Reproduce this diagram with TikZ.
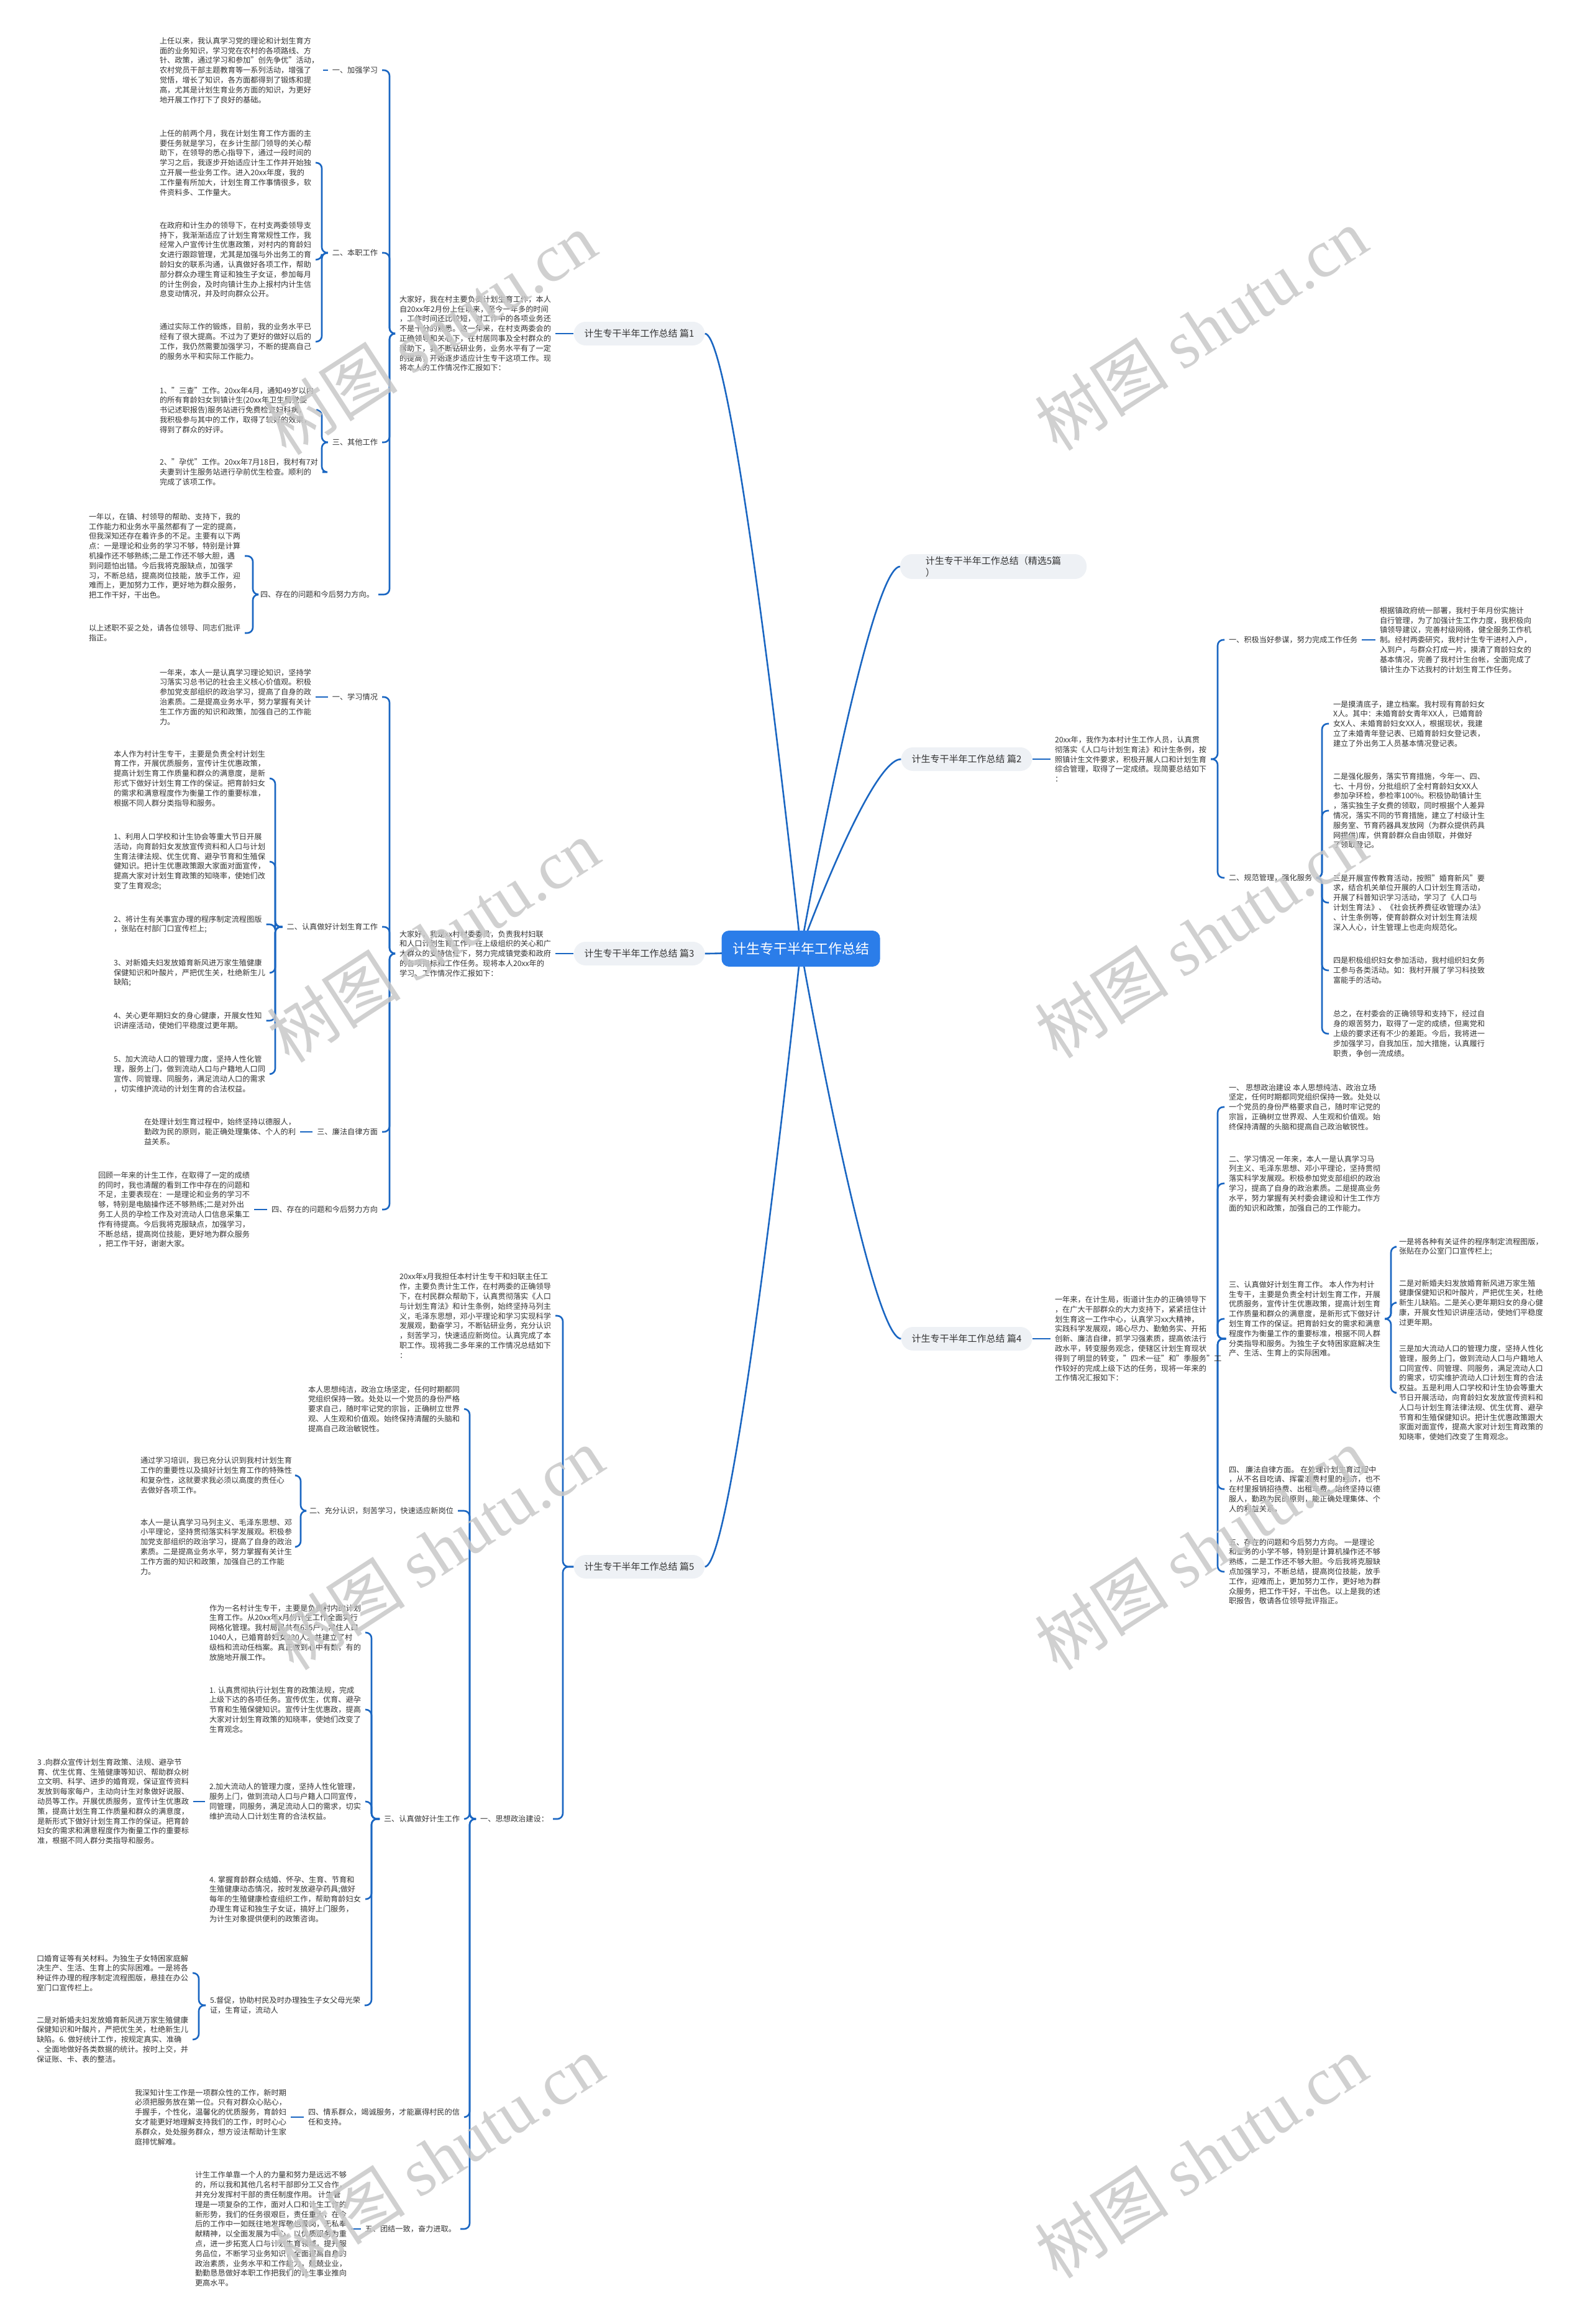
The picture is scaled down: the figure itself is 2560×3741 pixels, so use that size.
\documentclass[tikz,border=0pt]{standalone}
\usepackage{fontspec}
\setmainfont{Noto Sans CJK SC}
\newfontfamily\wmlatin{Liberation Serif}
\usetikzlibrary{calc}
\definecolor{linkblue}{HTML}{1A66C2}
\definecolor{rootblue}{HTML}{2B7DE9}
\definecolor{topicgray}{HTML}{EEF1F5}
\definecolor{inkgray}{HTML}{333333}
\definecolor{wmgray}{HTML}{C8C8C8}
\pgfdeclarelayer{background}
\pgfsetlayers{background,main}

\tikzset{
  link/.style={draw=linkblue, line width=2.6pt, rounded corners=9pt},
  root/.style={fill=rootblue, text=white, rounded corners=12pt, minimum width=255pt,
    minimum height=58pt, font=\fontsize{22}{26}\selectfont},
  topic/.style={fill=topicgray, text=inkgray, rounded corners=19pt, minimum height=38pt,
    inner xsep=17pt, font=\fontsize{15}{19}\selectfont},
  txt/.style={inner sep=0pt, outer sep=7pt, align=left, text=inkgray,
    font=\fontsize{12.2}{15.8}\selectfont},
  wm/.style={rotate=33, text=wmgray, opacity=0.85, font=\fontsize{108}{108}\selectfont}
}
% bracket links: parent, x of the trunk, child
\newcommand{\linkL}[3]{\draw[link] let \p1=(#1.west), \p2=(#3.east) in
  (\p1) -- (#2pt,\y1) -- (#2pt,\y2) -- (\p2);}
\newcommand{\linkR}[3]{\draw[link] let \p1=(#1.east), \p2=(#3.west) in
  (\p1) -- (#2pt,\y1) -- (#2pt,\y2) -- (\p2);}

\begin{document}
\begin{tikzpicture}[x=1pt,y=-1pt]
\useasboundingbox (0,0) rectangle (2560,3741);

% -------------------------------------------------
% Root and topics
% -------------------------------------------------
\node[root] (root) at (1289,1527) {计生专干半年工作总结};
\node[topic] (p1) at (1029,537) {计生专干半年工作总结 篇1};
\node[topic, align=left, minimum width=300pt] (px) at (1599,912) {计生专干半年工作总结（精选5篇\\）};
\node[topic] (p2) at (1556,1222) {计生专干半年工作总结 篇2};
\node[topic] (p3) at (1029,1535) {计生专干半年工作总结 篇3};
\node[topic] (p4) at (1556,2155) {计生专干半年工作总结 篇4};
\node[topic] (p5) at (1029,2522) {计生专干半年工作总结 篇5};

% -------------------------------------------------
% 篇1
% -------------------------------------------------
\node[txt, anchor=west] (i1) at (636,537) {大家好，我在村主要负责计划生育工作，本人\\
自20xx年2月份上任以来，至今一年多的时间\\
，工作时间还比较短，对工作中的各项业务还\\
不是十分的熟悉。这一年来，在村支两委会的\\
正确领导和关心下，在村居同事及全村群众的\\
帮助下，我不断钻研业务，业务水平有了一定\\
的提高，开始逐步适应计生专干这项工作。现\\
将本人的工作情况作汇报如下：};
\node[txt, anchor=east] (a11) at (615,113) {一、加强学习};
\node[txt, anchor=east] (a12) at (615,407) {二、本职工作};
\node[txt, anchor=east] (a13) at (615,712) {三、其他工作};
\node[txt, anchor=east] (a14) at (609,957) {四、存在的问题和今后努力方向。};
\node[txt, anchor=west] (t111) at (250,113) {上任以来，我认真学习党的理论和计划生育方\\
面的业务知识，学习党在农村的各项路线、方\\
针、政策，通过学习和参加"创先争优"活动，\\
农村党员干部主题教育等一系列活动，增强了\\
觉悟，增长了知识，各方面都得到了锻炼和提\\
高，尤其是计划生育业务方面的知识，为更好\\
地开展工作打下了良好的基础。};
\node[txt, anchor=west] (t121) at (250,262) {上任的前两个月，我在计划生育工作方面的主\\
要任务就是学习，在乡计生部门领导的关心帮\\
助下，在领导的悉心指导下，通过一段时间的\\
学习之后，我逐步开始适应计生工作并开始独\\
立开展一些业务工作。进入20xx年度，我的\\
工作量有所加大，计划生育工作事情很多，软\\
件资料多、工作量大。};
\node[txt, anchor=west] (t122) at (250,418) {在政府和计生办的领导下，在村支两委领导支\\
持下，我渐渐适应了计划生育常规性工作，我\\
经常入户宣传计生优惠政策，对村内的育龄妇\\
女进行跟踪管理，尤其是加强与外出务工的育\\
龄妇女的联系沟通，认真做好各项工作，帮助\\
部分群众办理生育证和独生子女证，参加每月\\
的计生例会，及时向镇计生办上报村内计生信\\
息变动情况，并及时向群众公开。};
\node[txt, anchor=west] (t123) at (250,550) {通过实际工作的锻炼，目前，我的业务水平已\\
经有了很大提高。不过为了更好的做好以后的\\
工作，我仍然需要加强学习，不断的提高自己\\
的服务水平和实际工作能力。};
\node[txt, anchor=west] (t131) at (250,660) {1、"三查"工作。20xx年4月，通知49岁以内\\
的所有育龄妇女到镇计生(20xx年卫生局党委\\
书记述职报告)服务站进行免费检查妇科病，\\
我积极参与其中的工作，取得了较好的效果，\\
得到了群众的好评。};
\node[txt, anchor=west] (t132) at (250,760) {2、"孕优"工作。20xx年7月18日，我村有7对\\
夫妻到计生服务站进行孕前优生检查。顺利的\\
完成了该项工作。};
\node[txt, anchor=west] (t141) at (136,895) {一年以，在镇、村领导的帮助、支持下，我的\\
工作能力和业务水平虽然都有了一定的提高，\\
但我深知还存在着许多的不足。主要有以下两\\
点：一是理论和业务的学习不够，特别是计算\\
机操作还不够熟练;二是工作还不够大胆，遇\\
到问题怕出错。今后我将克服缺点，加强学\\
习，不断总结，提高岗位技能，放手工作，迎\\
难而上，更加努力工作，更好地为群众服务，\\
把工作干好，干出色。};
\node[txt, anchor=west] (t142) at (136,1019) {以上述职不妥之处，请各位领导、同志们批评\\
指正。};

% -------------------------------------------------
% 篇3
% -------------------------------------------------
\node[txt, anchor=west] (i3) at (636,1535) {大家好，我是xx村村委委员，负责我村妇联\\
和人口计划生育工作，在上级组织的关心和广\\
大群众的支持信任下，努力完成镇党委和政府\\
的各项指标和工作任务。现将本人20xx年的\\
学习、工作情况作汇报如下：};
\node[txt, anchor=east] (a31) at (615,1122) {一、学习情况};
\node[txt, anchor=east] (a32) at (615,1492) {二、认真做好计划生育工作};
\node[txt, anchor=east] (a33) at (615,1822) {三、廉法自律方面};
\node[txt, anchor=east] (a34) at (615,1947) {四、存在的问题和今后努力方向};
\node[txt, anchor=west] (t311) at (250,1122) {一年来，本人一是认真学习理论知识，坚持学\\
习落实习总书记的社会主义核心价值观。积极\\
参加党支部组织的政治学习，提高了自身的政\\
治素质。二是提高业务水平，努力掌握有关计\\
生工作方面的知识和政策，加强自己的工作能\\
力。};
\node[txt, anchor=west] (t321) at (176,1253) {本人作为村计生专干，主要是负责全村计划生\\
育工作，开展优质服务，宣传计生优惠政策，\\
提高计划生育工作质量和群众的满意度，是新\\
形式下做好计划生育工作的保证。把育龄妇女\\
的需求和满意程度作为衡量工作的重要标准，\\
根据不同人群分类指导和服务。};
\node[txt, anchor=west] (t322) at (176,1387) {1、利用人口学校和计生协会等重大节日开展\\
活动，向育龄妇女发放宣传资料和人口与计划\\
生育法律法规、优生优育、避孕节育和生殖保\\
健知识。把计生优惠政策跟大家面对面宣传，\\
提高大家对计划生育政策的知晓率，使她们改\\
变了生育观念;};
\node[txt, anchor=west] (t323) at (176,1488) {2、将计生有关事宜办理的程序制定流程图版\\
，张贴在村部门口宣传栏上;};
\node[txt, anchor=west] (t324) at (176,1566) {3、对新婚夫妇发放婚育新风进万家生殖健康\\
保健知识和叶酸片，严把优生关，杜绝新生儿\\
缺陷;};
\node[txt, anchor=west] (t325) at (176,1643) {4、关心更年期妇女的身心健康，开展女性知\\
识讲座活动，使她们平稳度过更年期。};
\node[txt, anchor=west] (t326) at (176,1729) {5、加大流动人口的管理力度，坚持人性化管\\
理，服务上门，做到流动人口与户籍地人口同\\
宣传、同管理、同服务，满足流动人口的需求\\
，切实维护流动的计划生育的合法权益。};
\node[txt, anchor=west] (t331) at (225,1822) {在处理计划生育过程中，始终坚持以德服人，\\
勤政为民的原则，能正确处理集体、个人的利\\
益关系。};
\node[txt, anchor=west] (t341) at (151,1947) {回顾一年来的计生工作，在取得了一定的成绩\\
的同时，我也清醒的看到工作中存在的问题和\\
不足，主要表现在：一是理论和业务的学习不\\
够，特别是电脑操作还不够熟练;二是对外出\\
务工人员的孕检工作及对流动人口信息采集工\\
作有待提高。今后我将克服缺点，加强学习，\\
不断总结，提高岗位技能，更好地为群众服务\\
，把工作干好，谢谢大家。};

% -------------------------------------------------
% 篇2
% -------------------------------------------------
\node[txt, anchor=west] (i2) at (1691,1222) {20xx年，我作为本村计生工作人员，认真贯\\
彻落实《人口与计划生育法》和计生条例，按\\
照镇计生文件要求，积极开展人口和计划生育\\
综合管理，取得了一定成绩。现简要总结如下\\
：};
\node[txt, anchor=west] (a21) at (1971,1030) {一、积极当好参谋，努力完成工作任务};
\node[txt, anchor=west] (a22) at (1971,1413) {二、规范管理，强化服务};
\node[txt, anchor=west] (t211) at (2214,1030) {根据镇政府统一部署，我村于年月份实施计\\
自行管理，为了加强计生工作力度，我积极向\\
镇领导建议，完善村级网络，健全服务工作机\\
制。经村两委研究，我村计生专干进村入户，\\
入到户，与群众打成一片，摸清了育龄妇女的\\
基本情况，完善了我村计生台帐，全面完成了\\
镇计生办下达我村的计划生育工作任务。};
\node[txt, anchor=west] (t221) at (2139,1165) {一是摸清底子，建立档案。我村现有育龄妇女\\
X人。其中：未婚育龄女青年XX人，已婚育龄\\
女X人、未婚育龄妇女XX人，根据现状，我建\\
立了未婚青年登记表、已婚育龄妇女登记表，\\
建立了外出务工人员基本情况登记表。};
\node[txt, anchor=west] (t222) at (2139,1305) {二是强化服务，落实节育措施，今年一、四、\\
七、十月份，分批组织了全村育龄妇女XX人\\
参加孕环检，参检率100\%。积极协助镇计生\\
，落实独生子女费的领取，同时根据个人差异\\
情况，落实不同的节育措施，建立了村级计生\\
服务室、节育药器具发放网（为群众提供药具\\
网提供)库，供育龄群众自由领取，并做好\\
了领取登记。};
\node[txt, anchor=west] (t223) at (2139,1453) {三是开展宣传教育活动，按照"婚育新风"要\\
求，结合机关单位开展的人口计划生育活动，\\
开展了科普知识学习活动，学习了《人口与\\
计划生育法》、《社会抚养费征收管理办法》\\
、计生条例等，使育龄群众对计划生育法规\\
深入人心，计生管理上也走向规范化。};
\node[txt, anchor=west] (t224) at (2139,1562) {四是积极组织妇女参加活动，我村组织妇女务\\
工参与各类活动。如：我村开展了学习科技致\\
富能手的活动。};
\node[txt, anchor=west] (t225) at (2139,1664) {总之，在村委会的正确领导和支持下，经过自\\
身的艰苦努力，取得了一定的成绩，但离党和\\
上级的要求还有不少的差距。今后，我将进一\\
步加强学习，自我加压，加大措施，认真履行\\
职责，争创一流成绩。};

% -------------------------------------------------
% 篇4
% -------------------------------------------------
\node[txt, anchor=west] (i4) at (1691,2155) {一年来，在计生局，街道计生办的正确领导下\\
，在广大干部群众的大力支持下，紧紧扭住计\\
划生育这一工作中心，认真学习xx大精神，\\
实践科学发展观，竭心尽力、勤勉务实、开拓\\
创新、廉洁自律，抓学习强素质，提高依法行\\
政水平，转变服务观念，使辖区计划生育现状\\
得到了明显的转变，"四术一征"和"季服务"工\\
作较好的完成上级下达的任务，现将一年来的\\
工作情况汇报如下：};
\node[txt, anchor=west] (t41) at (1971,1782) {一、 思想政治建设 本人思想纯洁、政治立场\\
坚定，任何时期都同党组织保持一致。处处以\\
一个党员的身份严格要求自己，随时牢记党的\\
宗旨，正确树立世界观、人生观和价值观。始\\
终保持清醒的头脑和提高自己政治敏锐性。};
\node[txt, anchor=west] (t42) at (1971,1905) {二、学习情况 一年来，本人一是认真学习马\\
列主义、毛泽东思想、邓小平理论，坚持贯彻\\
落实科学发展观。积极参加党支部组织的政治\\
学习，提高了自身的政治素质。二是提高业务\\
水平，努力掌握有关村委会建设和计生工作方\\
面的知识和政策，加强自己的工作能力。};
\node[txt, anchor=west] (t43) at (1971,2123) {三、认真做好计划生育工作。 本人作为村计\\
生专干，主要是负责全村计划生育工作，开展\\
优质服务，宣传计生优惠政策，提高计划生育\\
工作质量和群众的满意度，是新形式下做好计\\
划生育工作的保证。把育龄妇女的需求和满意\\
程度作为衡量工作的重要标准，根据不同人群\\
分类指导和服务。为独生子女特困家庭解决生\\
产、生活、生育上的实际困难。};
\node[txt, anchor=west] (t44) at (1971,2397) {四、 廉法自律方面。 在处理计划生育过程中\\
，从不名目吃请、挥霍浪费村里的经济，也不\\
在村里报销招待费、出租车费。始终坚持以德\\
服人，勤政为民的原则，能正确处理集体、个\\
人的利益关系。};
\node[txt, anchor=west] (t45) at (1971,2530) {五、存在的问题和今后努力方向。 一是理论\\
和业务的小学不够，特别是计算机操作还不够\\
熟练，二是工作还不够大胆。今后我将克服缺\\
点加强学习，不断总结，提高岗位技能，放手\\
工作，迎难而上，更加努力工作，更好地为群\\
众服务，把工作干好，干出色。以上是我的述\\
职报告，敬请各位领导批评指正。};
\node[txt, anchor=west] (t431) at (2245,2007) {一是将各种有关证件的程序制定流程图版，\\
张贴在办公室门口宣传栏上;};
\node[txt, anchor=west] (t432) at (2245,2097) {二是对新婚夫妇发放婚育新风进万家生殖\\
健康保健知识和叶酸片，严把优生关，杜绝\\
新生儿缺陷。二是关心更年期妇女的身心健\\
康，开展女性知识讲座活动，使她们平稳度\\
过更年期。};
\node[txt, anchor=west] (t433) at (2245,2242) {三是加大流动人口的管理力度，坚持人性化\\
管理，服务上门，做到流动人口与户籍地人\\
口同宣传、同管理、同服务，满足流动人口\\
的需求，切实维护流动人口计划生育的合法\\
权益。五是利用人口学校和计生协会等重大\\
节日开展活动，向育龄妇女发放宣传资料和\\
人口与计划生育法律法规、优生优育、避孕\\
节育和生殖保健知识。把计生优惠政策跟大\\
家面对面宣传，提高大家对计划生育政策的\\
知晓率，使她们改变了生育观念。};

% -------------------------------------------------
% 篇5
% -------------------------------------------------
\node[txt, anchor=east] (i5) at (894,2118) {20xx年x月我担任本村计生专干和妇联主任工\\
作，主要负责计生工作，在村两委的正确领导\\
下，在村民群众帮助下，认真贯彻落实《人口\\
与计划生育法》和计生条例，始终坚持马列主\\
义，毛泽东思想，邓小平理论和学习实现科学\\
发展观，勤奋学习，不断钻研业务，充分认识\\
，刻苦学习，快速适应新岗位。认真完成了本\\
职工作。现将我二多年来的工作情况总结如下\\
：};
\node[txt, anchor=east] (a51) at (890,2928) {一、思想政治建设：};
\node[txt, anchor=east] (t511) at (747,2268) {本人思想纯洁，政治立场坚定，任何时期都同\\
党组织保持一致。处处以一个党员的身份严格\\
要求自己，随时牢记党的宗旨，正确树立世界\\
观、人生观和价值观。始终保持清醒的头脑和\\
提高自己政治敏锐性。};
\node[txt, anchor=east] (a52) at (737,2432) {二、充分认识，刻苦学习，快速适应新岗位};
\node[txt, anchor=east] (a53) at (747,2928) {三、认真做好计生工作};
\node[txt, anchor=east] (a54) at (747,3408) {四、情系群众，竭诚服务，才能赢得村民的信\\
任和支持。};
\node[txt, anchor=east] (a55) at (741,3588) {五、团结一致，奋力进取。};
\node[txt, anchor=east] (t521) at (477,2375) {通过学习培训，我已充分认识到我村计划生育\\
工作的重要性以及搞好计划生育工作的特殊性\\
和复杂性，这就要求我必须以高度的责任心\\
去做好各项工作。};
\node[txt, anchor=east] (t522) at (477,2490) {本人一是认真学习马列主义、毛泽东思想、邓\\
小平理论，坚持贯彻落实科学发展观。积极参\\
加党支部组织的政治学习，提高了自身的政治\\
素质。二是提高业务水平，努力掌握有关计生\\
工作方面的知识和政策，加强自己的工作能\\
力。};
\node[txt, anchor=west] (t531) at (330,2628) {作为一名村计生专干，主要是负责村内的计划\\
生育工作。从20xx年x月份计生工作全面实行\\
网格化管理。我村局民共有635户，常住人口\\
1040人，已婚育龄妇女230人。并建立了村\\
级档和流动任档案。真正做到心中有数，有的\\
放施地开展工作。};
\node[txt, anchor=west] (t532) at (330,2752) {1. 认真贯彻执行计划生育的政策法规，完成\\
上级下达的各项任务。宣传优生，优育、避孕\\
节育和生殖保健知识。宣传计生优惠政，提高\\
大家对计划生育政策的知晓率，使她们改变了\\
生育观念。};
\node[txt, anchor=west] (t533) at (330,2900) {2.加大流动人的管理力度，坚持人性化管理，\\
服务上门，做到流动人口与户籍人口同宣传，\\
同管理，同服务，满足流动人口的需求，切实\\
维护流动人口计划生育的合法权益。};
\node[txt, anchor=east] (t5331) at (311,2900) {3 .向群众宣传计划生育政策、法规、避孕节\\
育、优生优育、生殖健康等知识、帮助群众树\\
立文明、科学、进步的婚育观，保证宣传资料\\
发放到每家每户，主动向计生对象做好说服、\\
动员等工作。开展优质服务，宣传计生优惠政\\
策，提高计划生育工作质量和群众的满意度，\\
是新形式下做好计划生育工作的保证。把育龄\\
妇女的需求和满意程度作为衡量工作的重要标\\
准，根据不同人群分类指导和服务。};
\node[txt, anchor=west] (t534) at (330,3057) {4. 掌握育龄群众结婚、怀孕、生育、节育和\\
生殖健康动态情况，按时发放避孕药具;做好\\
每年的生殖健康检查组织工作，帮助育龄妇女\\
办理生育证和独生子女证，搞好上门服务，\\
为计生对象提供便利的政策咨询。};
\node[txt, anchor=west] (t535) at (331,3228) {5.督促，协助村民及时办理独生子女父母光荣\\
证，生育证，流动人};
\node[txt, anchor=east] (t5351) at (310,3176) {口婚育证等有关材料。为独生子女特困家庭解\\
决生产、生活、生育上的实际困难。一是将各\\
种证件办理的程序制定流程图版，悬挂在办公\\
室门口宣传栏上。};
\node[txt, anchor=east] (t5352) at (310,3283) {二是对新婚夫妇发放婚育新风进万家生殖健康\\
保健知识和叶酸片，严把优生关，杜绝新生儿\\
缺陷。6. 做好统计工作，按规定真实、准确\\
、全面地做好各类数据的统计。按时上交，并\\
保证账、卡、表的整洁。};
\node[txt, anchor=east] (t541) at (468,3408) {我深知计生工作是一项群众性的工作，新时期\\
必须把服务放在第一位。只有对群众心贴心，\\
手握手，个性化，温馨化的优质服务，育龄妇\\
女才能更好地理解支持我们的工作，时时心心\\
系群众，处处服务群众，想方设法帮助计生家\\
庭排忧解难。};
\node[txt, anchor=west] (t551) at (307,3588) {计生工作单靠一个人的力量和努力是远远不够\\
的，所以我和其他几名村干部即分工又合作，\\
并充分发挥村干部的责任制度作用。 计生管\\
理是一项复杂的工作，面对人口和计生工作的\\
新形势，我们的任务很艰巨，责任重大，在今\\
后的工作中一如既往地发挥敬也爱岗，无私奉\\
献精神，以全面发展为中心，以优质服务为重\\
点，进一步拓宽人口与计划生育领域，提升服\\
务品位，不断学习业务知识，全面提高自身的\\
政治素质，业务水平和工作能力，兢兢业业，\\
勤勤恳恳做好本职工作把我们的计生事业推向\\
更高水平。};

% -------------------------------------------------
% Links
% -------------------------------------------------
\begin{pgfonlayer}{background}
\fill[white] (0,0) rectangle (2560,3741);
\draw[link] (root.center) .. controls (root.center) and ($(p1.east)+(50,0)$) .. (p1.east);
\draw[link] (root.center) .. controls (root.center) and ($(p3.east)+(50,0)$) .. (p3.east);
\draw[link] (root.center) .. controls (root.center) and ($(p5.east)+(50,0)$) .. (p5.east);
\draw[link] (root.center) .. controls (root.center) and ($(px.west)+(-50,0)$) .. (px.west);
\draw[link] (root.center) .. controls (root.center) and ($(p2.west)+(-50,0)$) .. (p2.west);
\draw[link] (root.center) .. controls (root.center) and ($(p4.west)+(-50,0)$) .. (p4.west);

\draw[link] (p1.west) -- (i1.east);
\foreach \c in {a11,a12,a13,a14} {\linkL{i1}{627}{\c}}
\draw[link] (a11.west) -- (t111.east);
\foreach \c in {t121,t122,t123} {\linkL{a12}{518}{\c}}
\foreach \c in {t131,t132} {\linkL{a13}{518}{\c}}
\foreach \c in {t141,t142} {\linkL{a14}{407}{\c}}

\draw[link] (p3.west) -- (i3.east);
\foreach \c in {a31,a32,a33,a34} {\linkL{i3}{627}{\c}}
\draw[link] (a31.west) -- (t311.east);
\foreach \c in {t321,t322,t323,t324,t325,t326} {\linkL{a32}{443}{\c}}
\draw[link] (a33.west) -- (t331.east);
\draw[link] (a34.west) -- (t341.east);

\draw[link] (p2.east) -- (i2.west);
\foreach \c in {a21,a22} {\linkR{i2}{1960}{\c}}
\draw[link] (a21.east) -- (t211.west);
\foreach \c in {t221,t222,t223,t224,t225} {\linkR{a22}{2128}{\c}}

\draw[link] (p4.east) -- (i4.west);
\foreach \c in {t41,t42,t43,t44,t45} {\linkR{i4}{1960}{\c}}
\foreach \c in {t431,t432,t433} {\linkR{t43}{2239}{\c}}

\foreach \c in {i5,a51} {\linkL{p5}{906}{\c}}
\foreach \c in {t511,a52,a53,a54,a55} {\linkL{a51}{756}{\c}}
\foreach \c in {t521,t522} {\linkL{a52}{484}{\c}}
\foreach \c in {t531,t532,t533,t534,t535} {\linkL{a53}{598}{\c}}
\draw[link] (t533.west) -- (t5331.east);
\foreach \c in {t5351,t5352} {\linkL{t535}{320}{\c}}
\draw[link] (a54.west) -- (t541.east);
\draw[link] (a55.west) -- (t551.east);
\end{pgfonlayer}

% -------------------------------------------------
% Watermarks
% -------------------------------------------------
\foreach \wx/\wy [count=\k] in {692/537,1933/530,697/1515,1933/1508,704/2493,1933/2493,704/3472,1933/3472}
  \node[wm] (wm\k) at (\wx,\wy) {树图 {\wmlatin shutu.cn}};
\end{tikzpicture}
\end{document}
